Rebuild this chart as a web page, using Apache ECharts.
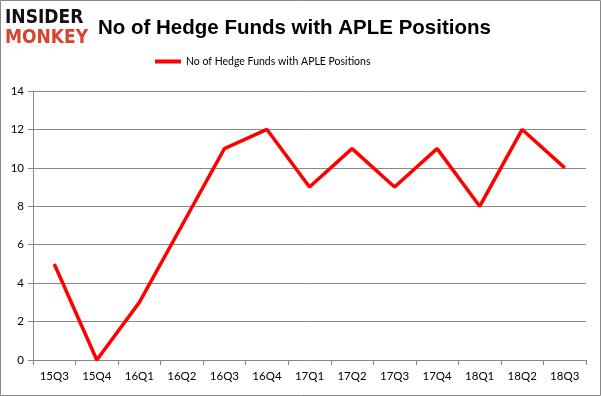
<!DOCTYPE html>
<html><head><meta charset="utf-8">
<script src="https://cdn.jsdelivr.net/npm/echarts@6/dist/echarts.min.js"></script>
<style>html,body{margin:0;padding:0;background:#fff}#c{width:601px;height:396px}</style>
</head><body><div id="c"></div>
<script>
const categories = ['15Q3','15Q4','16Q1','16Q2','16Q3','16Q4','17Q1','17Q2','17Q3','17Q4','18Q1','18Q2','18Q3'];
const hedgeFunds = [5,0,3,7,11,12,9,11,9,11,8,12,10];
const seriesName = 'No of Hedge Funds with APLE Positions';
const chartTitle = 'No of Hedge Funds with APLE Positions';

const chart = echarts.init(document.getElementById('c'), null, {renderer:'canvas'});
chart.setOption({
  animation:false,
  backgroundColor:'#fff',
  title:{text:chartTitle,left:93,top:13,textStyle:{fontFamily:'Liberation Sans',fontWeight:'bold',fontSize:20.5,color:'#000'}},
  legend:{top:56,left:155,padding:0,itemWidth:26,itemHeight:4,itemGap:3,icon:'rect',
    textStyle:{fontFamily:'Lato',fontSize:10.5,color:'#000'},data:[seriesName]},
  grid:{left:33,right:15,top:91,bottom:36},
  xAxis:{type:'category',data:categories,boundaryGap:true,
    axisLine:{lineStyle:{color:'#888',width:1}},
    axisTick:{show:true,length:5,lineStyle:{color:'#888'}},
    axisLabel:{fontFamily:'Lato',fontSize:11.5,color:'#000',margin:10}},
  yAxis:{type:'value',min:0,max:14,interval:2,
    axisLine:{show:true,lineStyle:{color:'#888'}},
    axisTick:{show:true,length:5,lineStyle:{color:'#888'}},
    splitLine:{lineStyle:{color:'#888',width:1}},
    axisLabel:{fontFamily:'Lato',fontSize:11.5,color:'#000',margin:9}},
  series:[{name:seriesName,type:'line',data:hedgeFunds,symbol:'none',
    lineStyle:{color:'#ff0000',width:3.5},itemStyle:{color:'#ff0000'}}],
  graphic:[
    {type:'rect',shape:{x:0.5,y:0.5,width:600,height:395},style:{fill:'none',stroke:'#888',lineWidth:1}},
    {type:'text',left:5,top:9,style:{text:'INSIDER',font:'bold 19px "DejaVu Sans Condensed"',fill:'#111'}},
    {type:'text',left:5,top:29,style:{text:'MONKEY',font:'bold 19px "DejaVu Sans Condensed"',fill:'#d9432d'}}
  ]
});
</script></body></html>
